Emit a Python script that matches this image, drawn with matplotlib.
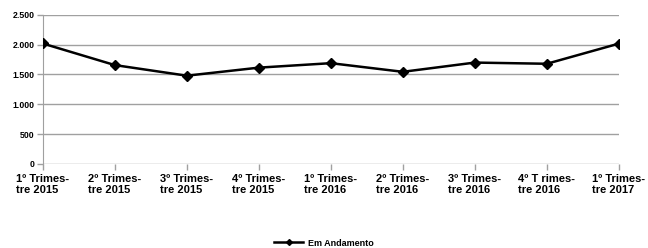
import matplotlib.pyplot as plt

plt.rcParams['font.family'] = ['Liberation Sans', 'DejaVu Sans']

# Dados
trimestres = ['1º Trimes-\ntre 2015', '2º Trimes-\ntre 2015', '3º Trimes-\ntre 2015',
              '4º Trimes-\ntre 2015', '1º Trimes-\ntre 2016', '2º Trimes-\ntre 2016',
              '3º Trimes-\ntre 2016', '4º T rimes-\ntre 2016', '1º Trimes-\ntre 2017']
em_andamento = [2020, 1658, 1480, 1615, 1690, 1545, 1700, 1680, 2018]
y_ticks = [0, 500, 1000, 1500, 2000, 2500]
y_labels = ['0', '500', '1.000', '1.500', '2.000', '2.500']

fig = plt.figure(figsize=(6.48, 2.48), dpi=100)
ax = fig.add_axes([0.066, 0.339, 0.889, 0.601])

x = list(range(len(trimestres)))
ax.plot(x, em_andamento, color='black', linewidth=1.8, marker='D', markersize=5,
        label='Em Andamento', zorder=3)

ax.set_xlim(0, len(trimestres) - 1)
ax.set_ylim(0, 2500)
ax.set_yticks(y_ticks)
ax.set_yticklabels(y_labels, fontsize=6.3, fontweight='bold')
ax.set_xticks(x)
ax.set_xticklabels(trimestres, fontsize=8, fontweight='bold', linespacing=1.15,
                   multialignment='left')

ax.grid(axis='y', color='#a0a0a0', linewidth=1)
ax.set_axisbelow(True)
for s in ['top', 'right', 'bottom']:
    ax.spines[s].set_visible(False)
ax.spines['left'].set_color('#a0a0a0')
ax.tick_params(axis='both', colors='#a0a0a0', labelcolor='black', length=4, width=1)
ax.tick_params(axis='x', pad=3)
ax.tick_params(axis='y', pad=2)

fig.legend(loc='center', bbox_to_anchor=(0.5, 0.02), frameon=False,
           prop={'size': 6.5, 'weight': 'bold'}, handlelength=3.2, handletextpad=0.5,
           borderaxespad=0, borderpad=0, markerscale=0.6)

plt.savefig('out.png', dpi=100)
